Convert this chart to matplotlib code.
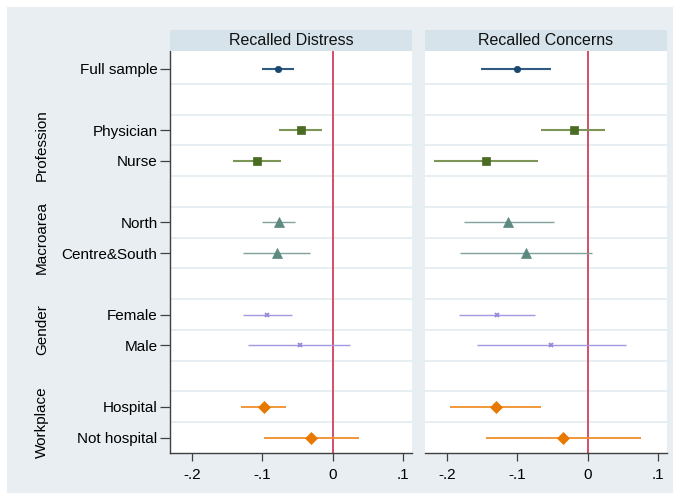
import matplotlib
matplotlib.use("Agg")
import matplotlib.pyplot as plt
from matplotlib.patches import Rectangle
import numpy as np

plt.rcParams['font.family'] = ['Liberation Sans', 'DejaVu Sans']

# Row labels (top to bottom) and their row positions
row_labels = ["Full sample", "Physician", "Nurse", "North", "Centre&South",
              "Female", "Male", "Hospital", "Not hospital"]
row_pos = [0, 2, 3, 5, 6, 8, 9, 11, 12]
group_names = ["Profession", "Macroarea", "Gender", "Workplace"]
group_pos = [2.5, 5.5, 8.5, 11.5]

panel_titles = ["Recalled Distress", "Recalled Concerns"]

# Point estimates and 95% CI bounds
distress_est = [-0.078, -0.045, -0.108, -0.076, -0.079, -0.093, -0.047, -0.098, -0.031]
distress_lo = [-0.100, -0.076, -0.142, -0.100, -0.127, -0.128, -0.121, -0.131, -0.098]
distress_hi = [-0.055, -0.015, -0.074, -0.053, -0.032, -0.058, 0.025, -0.066, 0.037]

concerns_est = [-0.101, -0.020, -0.145, -0.113, -0.088, -0.129, -0.052, -0.130, -0.035]
concerns_lo = [-0.151, -0.066, -0.219, -0.176, -0.182, -0.183, -0.158, -0.195, -0.145]
concerns_hi = [-0.052, 0.025, -0.071, -0.048, 0.006, -0.075, 0.054, -0.066, 0.075]

x_ticks = [-0.2, -0.1, 0.0, 0.1]
x_ticklabels = ["-.2", "-.1", "0", ".1"]

# Per-row styling: (marker colour, CI line colour, marker, marker size, line width)
styles = [
    ("#1a476f", "#2f5a82", "o", 4.6, 1.5),
    ("#4a6b22", "#7d9658", "s", 6.0, 1.5),
    ("#4a6b22", "#7d9658", "s", 6.0, 1.5),
    ("#5d8a80", "#7fa29a", "^", 6.8, 1.0),
    ("#5d8a80", "#7fa29a", "^", 6.8, 1.0),
    ("#9588d8", "#a398e2", "x", 3.4, 1.0),
    ("#9588d8", "#a398e2", "x", 3.4, 1.0),
    ("#e87800", "#f08f2a", "D", 6.6, 1.3),
    ("#e87800", "#f08f2a", "D", 6.6, 1.3),
]

W, H = 680, 500
fig = plt.figure(figsize=(W / 100, H / 100), dpi=100, facecolor="white")

bg = "#e8eef2"
strip_col = "#d6e3eb"
grid_col = "#e4ecf1"

fig.patches.append(Rectangle((7 / W, 7 / H), (W - 14) / W, (H - 14) / H,
                             transform=fig.transFigure, facecolor=bg,
                             edgecolor="none", zorder=-10))

panels = [
    (170, 412, distress_est, distress_lo, distress_hi),
    (425, 667, concerns_est, concerns_lo, concerns_hi),
]
ax_top, ax_bot = 50.7, 453
strip_top = 30

for k, (x0, x1, est, lo, hi) in enumerate(panels):
    ax = fig.add_axes([x0 / W, (H - ax_bot) / H, (x1 - x0) / W, (ax_bot - ax_top) / H])
    ax.set_facecolor("white")
    ax.set_xlim(-0.2312, 0.1125)
    ax.set_ylim(12.5, -0.58)

    for g in np.arange(0.5, 12.0, 1.0):
        ax.axhline(g, color=grid_col, lw=1.2, zorder=0)
    ax.axvline(0, color="#d2405a", lw=1.3, zorder=1)

    for i, (lab, y) in enumerate(zip(row_labels, row_pos)):
        mc, lc, mk, ms, lw = styles[i]
        ax.plot([lo[i], hi[i]], [y, y], color=lc, lw=lw, solid_capstyle="butt", zorder=2)
        if mk == "x":
            ax.plot(est[i], y, marker=mk, color=mc, ms=ms, mew=1.3, ls="none", zorder=3)
        else:
            ax.plot(est[i], y, marker=mk, color=mc, ms=ms, mec=mc, mew=0.5,
                    ls="none", zorder=3)

    ax.set_xticks(x_ticks)
    ax.set_xticklabels(x_ticklabels, fontsize=11)
    ax.tick_params(axis="x", length=6, width=0.9, color="#404040", pad=5)

    for s in ["top", "right"]:
        ax.spines[s].set_visible(False)
    ax.spines["bottom"].set_color("#404040")
    ax.spines["bottom"].set_linewidth(1.0)
    if k == 0:
        ax.spines["left"].set_color("#404040")
        ax.spines["left"].set_linewidth(1.0)
        ax.set_yticks(row_pos)
        ax.set_yticklabels(row_labels, fontsize=11)
        ax.tick_params(axis="y", length=7, width=0.9, color="#404040", pad=2)
    else:
        ax.spines["left"].set_visible(False)
        ax.set_yticks([])

    # Panel title strip
    fig.patches.append(Rectangle((x0 / W, (H - ax_top) / H), (x1 - x0) / W,
                                 (ax_top - strip_top) / H, transform=fig.transFigure,
                                 facecolor=strip_col, edgecolor="none", zorder=1))
    fig.text((x0 + x1) / 2 / W, (H - (ax_top + strip_top) / 2) / H, panel_titles[k],
             ha="center", va="center", fontsize=11.5, color="#111111")

    if k == 0:
        # Group captions, placed in figure x and data y
        trans = matplotlib.transforms.blended_transform_factory(fig.transFigure, ax.transData)
        for name, gp in zip(group_names, group_pos):
            ax.text(42 / W, gp, name, transform=trans, rotation=90,
                    ha="center", va="center", fontsize=11, clip_on=False)

fig.savefig("out.png", dpi=100, facecolor="white")
